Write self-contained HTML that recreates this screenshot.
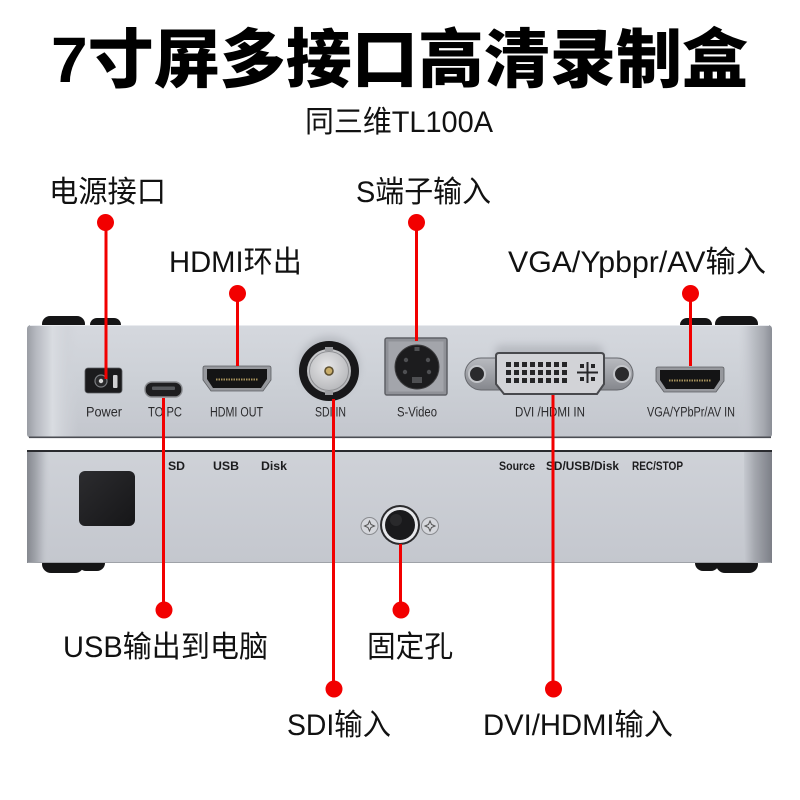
<!DOCTYPE html>
<html><head><meta charset="utf-8">
<style>
html,body{margin:0;padding:0;background:#fff;}
svg{display:block;}
text{font-family:"Liberation Sans","Noto Sans CJK SC",sans-serif;}
</style></head><body>
<svg width="800" height="800" viewBox="0 0 800 800" xmlns="http://www.w3.org/2000/svg">
<defs>
 <linearGradient id="face1" x1="0" y1="0" x2="0" y2="1">
  <stop offset="0" stop-color="#d5d8de"/>
  <stop offset="0.5" stop-color="#ccd0d6"/>
  <stop offset="1" stop-color="#c3c6cd"/>
 </linearGradient>
 <linearGradient id="face2" x1="0" y1="0" x2="0" y2="1">
  <stop offset="0" stop-color="#cfd2d8"/>
  <stop offset="1" stop-color="#c4c7ce"/>
 </linearGradient>
 <linearGradient id="lend1" gradientUnits="userSpaceOnUse" x1="27" y1="0" x2="78" y2="0">
  <stop offset="0" stop-color="#9a9da4"/>
  <stop offset="0.18" stop-color="#b6b9c0"/>
  <stop offset="0.5" stop-color="#d9dce1"/>
  <stop offset="0.8" stop-color="#cfd2d8" stop-opacity="0.6"/>
  <stop offset="1" stop-color="#cfd2d8" stop-opacity="0"/>
 </linearGradient>
 <linearGradient id="rend1" gradientUnits="userSpaceOnUse" x1="738" y1="0" x2="772" y2="0">
  <stop offset="0" stop-color="#cdd0d6" stop-opacity="0"/>
  <stop offset="0.35" stop-color="#c2c5cc"/>
  <stop offset="0.75" stop-color="#a6a9b0"/>
  <stop offset="1" stop-color="#8b8e96"/>
 </linearGradient>
 <linearGradient id="lend2" gradientUnits="userSpaceOnUse" x1="27" y1="0" x2="50" y2="0">
  <stop offset="0" stop-color="#85888f"/>
  <stop offset="0.35" stop-color="#9fa2a9"/>
  <stop offset="0.7" stop-color="#bdc0c7"/>
  <stop offset="1" stop-color="#cacdd3" stop-opacity="0"/>
 </linearGradient>
 <linearGradient id="rend2" gradientUnits="userSpaceOnUse" x1="744" y1="0" x2="772" y2="0">
  <stop offset="0" stop-color="#c6c9d0"/>
  <stop offset="0.4" stop-color="#a3a6ad"/>
  <stop offset="1" stop-color="#7c7f87"/>
 </linearGradient>
 <radialGradient id="bncIn" cx="0.45" cy="0.4" r="0.6">
  <stop offset="0" stop-color="#e6e6e8"/>
  <stop offset="1" stop-color="#b4b5b8"/>
 </radialGradient>
 <linearGradient id="plate" x1="0" y1="0" x2="0" y2="1">
  <stop offset="0" stop-color="#b9bbc0"/>
  <stop offset="1" stop-color="#85878d"/>
 </linearGradient>
 <linearGradient id="sq" x1="0" y1="0" x2="1" y2="1">
  <stop offset="0" stop-color="#2c2c2f"/>
  <stop offset="1" stop-color="#161618"/>
 </linearGradient>
 <filter id="blur" x="-20%" y="-20%" width="140%" height="140%"><feGaussianBlur stdDeviation="4"/></filter>
</defs>

<!-- Title -->
<text x="51" y="82" font-size="64" font-weight="900" fill="#000" textLength="697" lengthAdjust="spacingAndGlyphs">7寸屏多接口高清录制盒</text>
<text x="305" y="132" font-size="30" fill="#111" textLength="188" lengthAdjust="spacingAndGlyphs">同三维TL100A</text>

<!-- Labels -->
<g font-size="30" fill="#111">
 <text x="49" y="202" textLength="117" lengthAdjust="spacingAndGlyphs">电源接口</text>
 <text x="356" y="202" textLength="135" lengthAdjust="spacingAndGlyphs">S端子输入</text>
 <text x="169" y="272" textLength="133" lengthAdjust="spacingAndGlyphs">HDMI环出</text>
 <text x="508" y="272" textLength="258" lengthAdjust="spacingAndGlyphs">VGA/Ypbpr/AV输入</text>
 <text x="63" y="657" textLength="205" lengthAdjust="spacingAndGlyphs">USB输出到电脑</text>
 <text x="367" y="657" textLength="86" lengthAdjust="spacingAndGlyphs">固定孔</text>
 <text x="287" y="735" textLength="104" lengthAdjust="spacingAndGlyphs">SDI输入</text>
 <text x="483" y="735" textLength="190" lengthAdjust="spacingAndGlyphs">DVI/HDMI输入</text>
</g>

<!-- ===== Top panel ===== -->
<g fill="#151516">
 <rect x="42" y="316" width="43" height="16" rx="8"/>
 <rect x="90" y="318" width="31" height="14" rx="7"/>
 <rect x="680" y="318" width="32" height="14" rx="7"/>
 <rect x="715" y="316" width="43" height="16" rx="8"/>
</g>
<rect x="27" y="325" width="745" height="113" rx="4" fill="url(#face1)"/>
<rect x="27" y="325" width="51" height="113" rx="4" fill="url(#lend1)"/>
<rect x="738" y="325" width="34" height="113" rx="4" fill="url(#rend1)"/>
<line x1="30" y1="325.5" x2="769" y2="325.5" stroke="#e9ebef" stroke-width="1"/>
<line x1="29" y1="437.3" x2="771" y2="437.3" stroke="#4b4d53" stroke-width="1.6"/>

<!-- soft shadows -->
<g opacity="0.25" filter="url(#blur)" fill="#6a6d75">
 <circle cx="329" cy="366" r="30"/>
 <rect x="495" y="345" width="108" height="30" rx="6"/>
</g>

<!-- Power jack -->
<rect x="85" y="368" width="37" height="25" rx="3" fill="#1b1b1d" stroke="#5a5c60" stroke-width="0.8"/>
<circle cx="101" cy="381" r="6" fill="#2a2a2c" stroke="#7c7e82" stroke-width="1.2"/>
<circle cx="101" cy="381" r="2.2" fill="#d8d8d8"/>
<rect x="113" y="375" width="4.5" height="13" rx="1" fill="#cfcfd2"/>

<!-- Micro USB -->
<rect x="145" y="382" width="37" height="15" rx="7" fill="#1e1e20" stroke="#8a8c90" stroke-width="1.4"/>
<rect x="152" y="386.5" width="23" height="3.5" rx="1" fill="#57595d"/>

<!-- HDMI OUT -->
<g id="hdmi">
 <path d="M205,366 H269 Q271,366 271,368 V380 L263,391 H211 L203,380 V368 Q203,366 205,366 Z" fill="#96989d" stroke="#5d5f63" stroke-width="0.8"/>
 <path d="M207,369 H267 V379 L261,388 H213 L207,379 Z" fill="#141415"/>
 <line x1="216" y1="379.5" x2="258" y2="379.5" stroke="#a8925a" stroke-width="2" stroke-dasharray="1.5 1"/>
</g>

<!-- SDI BNC -->
<circle cx="329" cy="371" r="30" fill="#18181a"/>
<circle cx="329" cy="371" r="22" fill="url(#bncIn)"/>
<circle cx="329" cy="371" r="19.5" fill="none" stroke="#8e8f93" stroke-width="1"/>
<rect x="325" y="347" width="8" height="4" fill="#9c9da1"/>
<rect x="325" y="391" width="8" height="4" fill="#9c9da1"/>
<circle cx="329" cy="371" r="4.8" fill="#5e5030"/>
<circle cx="329" cy="371" r="3.2" fill="#c9ad6a"/>

<!-- S-Video -->
<rect x="385" y="338" width="62" height="57" rx="2" fill="#8f9197" stroke="#5f6166" stroke-width="1.5"/>
<rect x="388.5" y="341.5" width="55" height="50" fill="#a3a5ab"/>
<circle cx="417" cy="367" r="22" fill="#1c1c1e" stroke="#3c3c3e" stroke-width="1"/>
<g fill="#4e4f52">
 <rect x="414.5" y="347" width="5" height="4"/>
 <circle cx="406" cy="360" r="2.2"/>
 <circle cx="428" cy="360" r="2.2"/>
 <circle cx="405" cy="372" r="2.2"/>
 <circle cx="429" cy="372" r="2.2"/>
 <rect x="412" y="377" width="10" height="6"/>
</g>

<!-- DVI -->
<rect x="465" y="358" width="168" height="32" rx="16" fill="url(#plate)" stroke="#65676c" stroke-width="1"/>
<circle cx="477" cy="374" r="8" fill="#2a2a2c" stroke="#c3c5c9" stroke-width="2"/>
<circle cx="622" cy="374" r="8" fill="#2a2a2c" stroke="#c3c5c9" stroke-width="2"/>
<path d="M499,353 H601 Q604,353 604,356 V384 L597,394 H504 L496,384 V356 Q496,353 499,353 Z" fill="#d2d3d7" stroke="#48494d" stroke-width="2"/>
<g fill="#262628">
 <rect x="506" y="362" width="5" height="5"/><rect x="514" y="362" width="5" height="5"/><rect x="522" y="362" width="5" height="5"/><rect x="530" y="362" width="5" height="5"/><rect x="538" y="362" width="5" height="5"/><rect x="546" y="362" width="5" height="5"/><rect x="554" y="362" width="5" height="5"/><rect x="562" y="362" width="5" height="5"/>
 <rect x="506" y="370" width="5" height="5"/><rect x="514" y="370" width="5" height="5"/><rect x="522" y="370" width="5" height="5"/><rect x="530" y="370" width="5" height="5"/><rect x="538" y="370" width="5" height="5"/><rect x="546" y="370" width="5" height="5"/><rect x="554" y="370" width="5" height="5"/><rect x="562" y="370" width="5" height="5"/>
 <rect x="506" y="378" width="5" height="5"/><rect x="514" y="378" width="5" height="5"/><rect x="522" y="378" width="5" height="5"/><rect x="530" y="378" width="5" height="5"/><rect x="538" y="378" width="5" height="5"/><rect x="546" y="378" width="5" height="5"/><rect x="554" y="378" width="5" height="5"/><rect x="562" y="378" width="5" height="5"/>
 <rect x="577" y="371.5" width="21" height="2"/>
 <rect x="586.5" y="362" width="2" height="21"/>
 <rect x="580" y="364" width="4" height="4"/><rect x="591" y="364" width="4" height="4"/>
 <rect x="580" y="377" width="4" height="4"/><rect x="591" y="377" width="4" height="4"/>
</g>

<!-- VGA/YPbPr/AV HDMI -->
<g transform="translate(453,1)">
 <path d="M205,366 H269 Q271,366 271,368 V380 L263,391 H211 L203,380 V368 Q203,366 205,366 Z" fill="#96989d" stroke="#5d5f63" stroke-width="0.8"/>
 <path d="M207,369 H267 V379 L261,388 H213 L207,379 Z" fill="#141415"/>
 <line x1="216" y1="379.5" x2="258" y2="379.5" stroke="#a8925a" stroke-width="2" stroke-dasharray="1.5 1"/>
</g>

<!-- top panel labels -->
<g font-size="13.5" fill="#2a2a2c">
 <text x="86" y="416.5" textLength="36" lengthAdjust="spacingAndGlyphs">Power</text>
 <text x="148" y="416.5" textLength="34" lengthAdjust="spacingAndGlyphs">TO PC</text>
 <text x="210" y="416.5" textLength="53" lengthAdjust="spacingAndGlyphs">HDMI OUT</text>
 <text x="315" y="416.5" textLength="31" lengthAdjust="spacingAndGlyphs">SDI IN</text>
 <text x="397" y="416.5" textLength="40" lengthAdjust="spacingAndGlyphs">S-Video</text>
 <text x="515" y="416.5" textLength="70" lengthAdjust="spacingAndGlyphs">DVI /HDMI IN</text>
 <text x="647" y="416.5" textLength="88" lengthAdjust="spacingAndGlyphs">VGA/YPbPr/AV IN</text>
</g>

<!-- ===== Bottom panel ===== -->
<g fill="#151516">
 <rect x="42" y="555" width="42" height="18" rx="9"/>
 <rect x="78" y="555" width="27" height="16" rx="8"/>
 <rect x="695" y="555" width="24" height="16" rx="8"/>
 <rect x="716" y="555" width="42" height="18" rx="9"/>
</g>
<rect x="27" y="450" width="745" height="113" rx="3" fill="url(#face2)"/>
<rect x="27" y="450" width="23" height="113" fill="url(#lend2)"/>
<rect x="744" y="450" width="28" height="113" fill="url(#rend2)"/>
<line x1="27" y1="451" x2="772" y2="451" stroke="#2a2b2f" stroke-width="2"/>
<line x1="28" y1="562.5" x2="771" y2="562.5" stroke="#9fa2a8" stroke-width="1"/>

<!-- black square -->
<rect x="79" y="471" width="56" height="55" rx="6" fill="url(#sq)"/>

<!-- bottom labels -->
<g font-size="12" font-weight="bold" fill="#1c1c1e">
 <text x="168" y="470" textLength="17" lengthAdjust="spacingAndGlyphs">SD</text>
 <text x="213" y="470" textLength="26" lengthAdjust="spacingAndGlyphs">USB</text>
 <text x="261" y="470" textLength="26" lengthAdjust="spacingAndGlyphs">Disk</text>
 <text x="499" y="470" textLength="36" lengthAdjust="spacingAndGlyphs">Source</text>
 <text x="546" y="470" textLength="73" lengthAdjust="spacingAndGlyphs">SD/USB/Disk</text>
 <text x="632" y="470" textLength="51" lengthAdjust="spacingAndGlyphs">REC/STOP</text>
</g>

<!-- fixing hole -->
<circle cx="400" cy="525" r="20" fill="#2b2b2d"/>
<circle cx="400" cy="525" r="18" fill="#e6e7ea"/>
<circle cx="400" cy="525" r="15" fill="#1a1a1c"/>
<circle cx="396" cy="520" r="6" fill="#333336" opacity="0.6"/>
<g>
 <circle cx="369.5" cy="526" r="8.5" fill="#d5d7dc" stroke="#8a8c90" stroke-width="1"/>
 <path d="M369.5,521 L371,524.5 L374.5,526 L371,527.5 L369.5,531 L368,527.5 L364.5,526 L368,524.5 Z" fill="none" stroke="#555" stroke-width="1"/>
 <circle cx="430" cy="526" r="8.5" fill="#d5d7dc" stroke="#8a8c90" stroke-width="1"/>
 <path d="M430,521 L431.5,524.5 L435,526 L431.5,527.5 L430,531 L428.5,527.5 L425,526 L428.5,524.5 Z" fill="none" stroke="#555" stroke-width="1"/>
</g>

<!-- ===== Red callout lines ===== -->
<g stroke="#f20000" stroke-width="3" fill="none">
 <line x1="106" y1="222" x2="106" y2="379"/>
 <line x1="237.5" y1="294" x2="237.5" y2="366"/>
 <line x1="416.5" y1="222" x2="416.5" y2="341"/>
 <line x1="690.5" y1="294" x2="690.5" y2="366"/>
 <line x1="163.5" y1="398" x2="163.5" y2="610"/>
 <line x1="400.5" y1="544" x2="400.5" y2="610"/>
 <line x1="333.5" y1="399" x2="333.5" y2="689"/>
 <line x1="553" y1="395" x2="553" y2="689"/>
</g>
<g fill="#f20000">
 <circle cx="105.5" cy="222.5" r="8.5"/>
 <circle cx="416.5" cy="222.5" r="8.5"/>
 <circle cx="237.5" cy="293.5" r="8.5"/>
 <circle cx="690.5" cy="293.5" r="8.5"/>
 <circle cx="164" cy="610" r="8.5"/>
 <circle cx="401" cy="610" r="8.5"/>
 <circle cx="334" cy="689" r="8.5"/>
 <circle cx="553.5" cy="689" r="8.5"/>
</g>
</svg>
</body></html>
